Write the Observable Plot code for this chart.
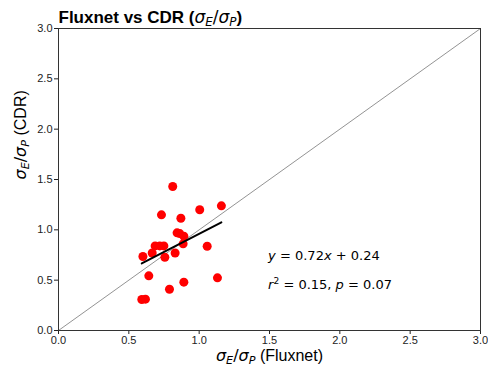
<!DOCTYPE html>
<html><head><meta charset="utf-8">
<script src="https://cdn.jsdelivr.net/npm/d3@7"></script>
<script src="https://cdn.jsdelivr.net/npm/@observablehq/plot@0.6"></script>
<style>body{margin:0;background:#fff}</style>
</head><body><div id="chart"></div>
<script>
const fluxnet = [0.812,0.732,0.87,1.004,1.158,0.843,0.862,0.891,0.886,0.687,0.72,0.749,0.666,0.60,0.756,0.829,1.057,0.642,0.891,0.789,1.13,0.592,0.618];
const cdr     = [1.43,1.149,1.115,1.20,1.238,0.97,0.963,0.937,0.861,0.84,0.84,0.84,0.77,0.735,0.728,0.77,0.837,0.543,0.48,0.41,0.523,0.308,0.311];
const slope = 0.72, intercept = 0.24;
const tickValues = [0,0.5,1,1.5,2,2.5,3];
const titleText = "Fluxnet vs CDR (σE/σP)";
const xLabelText = "σE/σP (Fluxnet)";
const yLabelText = "σE/σP (CDR)";
const eqText = "y = 0.72x + 0.24";
const statText = "r2 = 0.15, p = 0.07";

const points = fluxnet.map((x,i)=>({x, y: cdr[i]}));
const xmin = d3.min(fluxnet), xmax = d3.max(fluxnet);
const fit = [xmin, xmax].map(x=>({x, y: slope*x+intercept}));
const diag = [0,3].map(v=>({x:v,y:v}));

const chart = Plot.plot({
  width: 488, height: 374,
  marginLeft: 58, marginRight: 8, marginTop: 28, marginBottom: 44,
  style: {fontFamily: "'Liberation Sans', Arial, sans-serif", fontSize: "11px", color: "#222", background: "#fff"},
  x: {domain:[0,3], ticks: tickValues, tickFormat: d3.format(".1f"), tickSize: 4, tickPadding: 2, label: null},
  y: {domain:[0,3], ticks: tickValues, tickFormat: d3.format(".1f"), tickSize: 4, tickPadding: 2, label: null},
  marks: [
    Plot.line(diag, {x:"x", y:"y", stroke:"#777", strokeWidth:0.8}),
    Plot.dot(points, {x:"x", y:"y", r:4.5, fill:"red", stroke:"none"}),
    Plot.line(fit, {x:"x", y:"y", stroke:"black", strokeWidth:2}),
    Plot.text([eqText], {x:1.49, y:0.745, text:d=>d, textAnchor:"start", fontSize:13, fill:"#000"}),
    Plot.text([statText], {x:1.49, y:0.45, text:d=>d, textAnchor:"start", fontSize:13, fill:"#000"}),
    Plot.text([xLabelText], {frameAnchor:"bottom", dy:30, text:d=>d, fontSize:16, fill:"#000"}),
    Plot.text([yLabelText], {frameAnchor:"left", dx:-38, rotate:-90, text:d=>d, fontSize:16, fill:"#000"}),
    Plot.text([titleText], {frameAnchor:"top-left", dy:-18, text:d=>d, textAnchor:"start", fontSize:17, fontWeight:"bold", fill:"#000"}),
    Plot.frame({stroke:"#333", strokeWidth:1})
  ]
});
document.getElementById("chart").appendChild(chart);

function setRich(node, segs, base) {
  const sel = d3.select(node); sel.text(null);
  let shift = 0;
  for (const s of segs) {
    const target = s.sub ? base*0.22 : s.sup ? -base*0.38 : 0;
    const ts = sel.append("tspan").text(s.t).attr("dy", target - shift);
    shift = target;
    if (s.sub || s.sup) ts.attr("font-size", base*0.7);
    if (s.it) ts.attr("font-style", "italic");
    if (s.math) ts.attr("font-family", "'DejaVu Sans'").attr("font-weight", "normal");
  }
}
const sigma = [
  {t:"σ", it:1, math:1}, {t:"E", it:1, math:1, sub:1},
  {t:"/", math:1}, {t:"σ", it:1, math:1}, {t:"P", it:1, math:1, sub:1}
];
const texts = d3.select(chart).selectAll("text").nodes();
function find(s){ return texts.find(n => n.textContent === s); }
setRich(find(titleText), [{t:"Fluxnet vs CDR ("}, ...sigma, {t:")"}], 17);
setRich(find(xLabelText), [...sigma, {t:" (Fluxnet)"}], 16);
setRich(find(yLabelText), [...sigma, {t:" (CDR)"}], 16);
setRich(find(eqText), [{t:"y", it:1, math:1}, {t:" = 0.72", math:1}, {t:"x", it:1, math:1}, {t:" + 0.24", math:1}], 13);
setRich(find(statText), [{t:"r", it:1, math:1}, {t:"2", math:1, sup:1}, {t:" = 0.15, ", math:1}, {t:"p", it:1, math:1}, {t:" = 0.07", math:1}], 13);
</script></body></html>
